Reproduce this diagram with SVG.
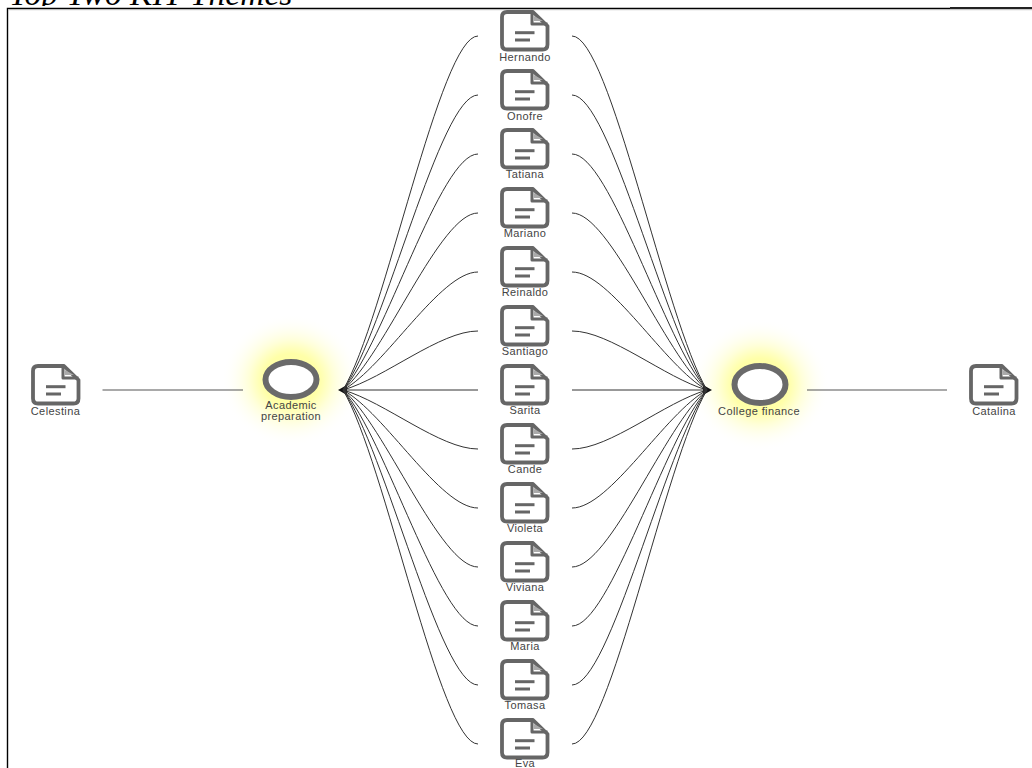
<svg xmlns="http://www.w3.org/2000/svg" xmlns:xlink="http://www.w3.org/1999/xlink" width="1032" height="768" viewBox="0 0 1032 768">
<style>
.l{font-family:"Liberation Sans",Arial,sans-serif;font-size:11px;letter-spacing:.4px;fill:#444;text-anchor:middle}
.c path{fill:none;stroke:#333;stroke-width:1}
.c .h{stroke:#555;stroke-width:1.2}
.c .t{fill:#111;stroke:none}
.i{fill:#fff;stroke:#666;stroke-width:3.8;stroke-linejoin:round}
.f{fill:none;stroke:#666;stroke-width:3;stroke-linejoin:round}
.b{fill:#666}
.r{fill:#fff;stroke:#6b6b6b;stroke-width:6}
</style>
<defs>
<radialGradient id="g"><stop offset="0" stop-color="#ffffa0"/><stop offset=".4" stop-color="#ffffa8"/><stop offset=".6" stop-color="#ffffd8"/><stop offset="1" stop-color="#fff" stop-opacity="0"/></radialGradient>
<filter id="s" x="-10%" y="-10%" width="120%" height="120%"><feGaussianBlur stdDeviation=".4"/></filter>
<clipPath id="top"><rect x="0" y="0" width="1032" height="6"/></clipPath>
<g id="d"><path class="i" d="M-18-24H8L22.5-10V8.5Q22.5 13.500 17.5 13.500H-18Q-23 13.500-23 8.5V-19Q-23-24-18-24Z"/><path class="f" d="M7-24V-12H22.5"/><path fill="#aaa" d="M9-20L18-15H9Z"/><rect class="b" x="-10" y="-4.800" width="19.500" height="3"/><rect class="b" x="-10" y="2.500" width="15" height="3"/></g>
</defs>
<rect width="1032" height="768" fill="#fff"/>
<text x="9" y="5" clip-path="url(#top)" font-family="Liberation Serif,serif" font-style="italic" font-size="33.500">Top Two KIT Themes</text>
<path d="M7.5 768V8.5H950" fill="none" stroke="#000" stroke-width="1.4"/>
<path d="M950 8H1032" stroke="#222" stroke-width="2"/>
<path d="M8 9.7H1032" stroke="#bbb"/>
<g id="academic"><ellipse cx="291" cy="380" rx="70" ry="66" fill="url(#g)"/><ellipse class="r" cx="291" cy="379.500" rx="25.500" ry="17.500" filter="url(#s)"/><text class="l" x="291" y="409">Academic</text><text class="l" x="291" y="420">preparation</text></g>
<g id="college"><ellipse cx="760" cy="385" rx="70" ry="66" fill="url(#g)"/><ellipse class="r" cx="760" cy="384.500" rx="25.500" ry="18.500" filter="url(#s)"/><text class="l" x="759" y="414.500">College finance</text></g>
<g class="c" id="connectors">
<path class="h" d="M102.500 390H243"/><path class="h" d="M807 390H947"/>
<path class="t" d="M338 390L347 385V395Z"/><path class="t" d="M712 390L703 385V395Z"/>
<path d="M343 390C385 320 440 36 478 36M343 390C385 332 440 95 478 95M343 390C385 343 440 154 478 154M343 390C385 355 440 213 478 213M343 390C385 367 440 272 478 272M343 390C385 378 440 331 478 331M343 390H478M343 390C385 402 440 449 478 449M343 390C385 413 440 508 478 508M343 390C385 425 440 567 478 567M343 390C385 437 440 626 478 626M343 390C385 448 440 685 478 685M343 390C385 460 440 744 478 744"/>
<path d="M707 390C665 320 610 36 572 36M707 390C665 332 610 95 572 95M707 390C665 343 610 154 572 154M707 390C665 355 610 213 572 213M707 390C665 367 610 272 572 272M707 390C665 378 610 331 572 331M707 390H572M707 390C665 402 610 449 572 449M707 390C665 413 610 508 572 508M707 390C665 425 610 567 572 567M707 390C665 437 610 626 572 626M707 390C665 448 610 685 572 685M707 390C665 460 610 744 572 744"/>
</g>
<g id="celestina"><use xlink:href="#d" x="56" y="390" filter="url(#s)"/><text class="l" x="55.500" y="414.500">Celestina</text></g>
<g id="catalina"><use xlink:href="#d" x="994" y="390" filter="url(#s)"/><text class="l" x="994" y="414.500">Catalina</text></g>
<g id="hernando"><use xlink:href="#d" x="525" y="36" filter="url(#s)"/><text class="l" x="525" y="60.500">Hernando</text></g>
<g id="onofre"><use xlink:href="#d" x="525" y="95" filter="url(#s)"/><text class="l" x="525" y="119.500">Onofre</text></g>
<g id="tatiana"><use xlink:href="#d" x="525" y="154" filter="url(#s)"/><text class="l" x="525" y="178">Tatiana</text></g>
<g id="mariano"><use xlink:href="#d" x="525" y="213" filter="url(#s)"/><text class="l" x="525" y="237">Mariano</text></g>
<g id="reinaldo"><use xlink:href="#d" x="525" y="272" filter="url(#s)"/><text class="l" x="525" y="296">Reinaldo</text></g>
<g id="santiago"><use xlink:href="#d" x="525" y="331" filter="url(#s)"/><text class="l" x="525" y="355">Santiago</text></g>
<g id="sarita"><use xlink:href="#d" x="525" y="390" filter="url(#s)"/><text class="l" x="525" y="414">Sarita</text></g>
<g id="cande"><use xlink:href="#d" x="525" y="449" filter="url(#s)"/><text class="l" x="525" y="473">Cande</text></g>
<g id="violeta"><use xlink:href="#d" x="525" y="508" filter="url(#s)"/><text class="l" x="525" y="532">Violeta</text></g>
<g id="viviana"><use xlink:href="#d" x="525" y="567" filter="url(#s)"/><text class="l" x="525" y="591">Viviana</text></g>
<g id="maria"><use xlink:href="#d" x="525" y="626" filter="url(#s)"/><text class="l" x="525" y="650">Maria</text></g>
<g id="tomasa"><use xlink:href="#d" x="525" y="685" filter="url(#s)"/><text class="l" x="525" y="709">Tomasa</text></g>
<g id="eva"><use xlink:href="#d" x="525" y="744" filter="url(#s)"/><text class="l" x="525" y="767">Eva</text></g>
</svg>
